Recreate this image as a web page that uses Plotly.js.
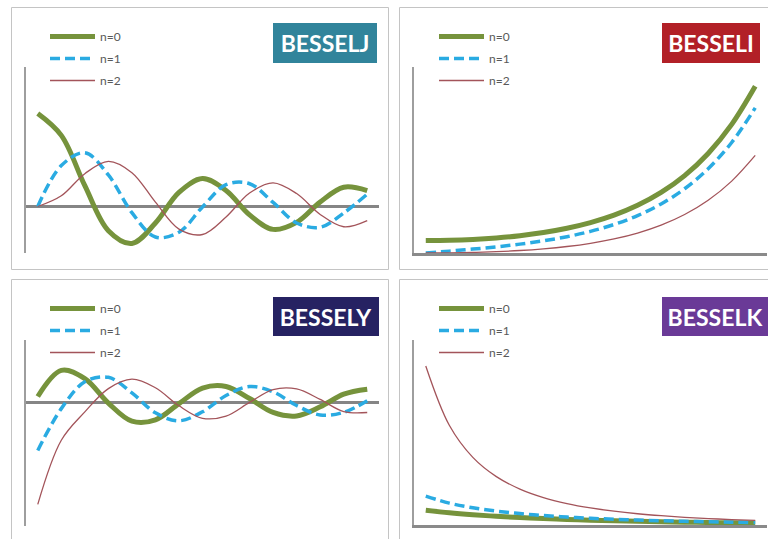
<!DOCTYPE html>
<html><head><meta charset="utf-8">
<script src="https://cdn.plot.ly/plotly-3.0.1.min.js"></script>
<style>html,body{margin:0;padding:0;background:#fff;overflow:hidden}#chart{width:768px;height:539px}</style>
</head><body><div id="chart"></div>
<script>
// ---- data ----
const seriesNames = ['n=0', 'n=1', 'n=2'];
const panelTitles = ['BESSELJ', 'BESSELI', 'BESSELY', 'BESSELK'];

const xJ = [0, 1, 2, 3, 4, 5, 6, 7, 8, 9, 10, 11, 12, 13, 14];
const J0 = [1.000, 0.765, 0.224, -0.260, -0.397, -0.178, 0.151, 0.300, 0.172, -0.090, -0.246, -0.171, 0.048, 0.207, 0.171];
const J1 = [0.000, 0.440, 0.577, 0.339, -0.066, -0.328, -0.277, -0.005, 0.235, 0.245, 0.044, -0.177, -0.223, -0.070, 0.133];
const J2 = [0.000, 0.115, 0.353, 0.486, 0.364, 0.047, -0.243, -0.301, -0.113, 0.145, 0.255, 0.139, -0.085, -0.218, -0.152];

const xI = [0, 0.3, 0.6, 0.9, 1.2, 1.5, 1.8, 2.1, 2.4, 2.7, 3.0, 3.3, 3.6, 3.9, 4.2];
const I0 = [1.000, 1.023, 1.092, 1.213, 1.394, 1.647, 1.990, 2.446, 3.049, 3.842, 4.881, 6.243, 8.028, 10.369, 13.443];
const I1 = [0.000, 0.152, 0.314, 0.497, 0.715, 0.982, 1.317, 1.746, 2.298, 3.016, 3.953, 5.181, 6.793, 8.914, 11.706];
const I2 = [0.000, 0.011, 0.046, 0.108, 0.200, 0.338, 0.526, 0.784, 1.134, 1.608, 2.245, 3.102, 4.254, 5.798, 7.869];

const xY = [1, 2, 3, 4, 5, 6, 7, 8, 9, 10, 11, 12, 13, 14, 15];
const Y0 = [0.088, 0.510, 0.377, -0.017, -0.309, -0.288, -0.026, 0.224, 0.250, 0.056, -0.169, -0.225, -0.078, 0.127, 0.206];
const Y1 = [-0.781, -0.107, 0.325, 0.398, 0.148, -0.175, -0.303, -0.158, 0.104, 0.249, 0.164, -0.057, -0.210, -0.167, 0.021];
const Y2 = [-1.651, -0.617, -0.160, 0.216, 0.368, 0.230, -0.061, -0.263, -0.227, -0.006, 0.200, 0.211, 0.041, -0.154, -0.169];

const xK = [0.4, 0.5, 0.6, 0.7, 0.8, 0.9, 1.0, 1.1, 1.2, 1.3, 1.4, 1.5, 1.6, 1.7, 1.8];
const K0 = [1.115, 0.924, 0.778, 0.661, 0.565, 0.487, 0.421, 0.366, 0.319, 0.278, 0.244, 0.214, 0.188, 0.166, 0.146];
const K1 = [2.184, 1.656, 1.303, 1.050, 0.862, 0.717, 0.602, 0.510, 0.435, 0.373, 0.321, 0.277, 0.241, 0.209, 0.183];
const K2 = [12.037, 7.550, 5.120, 3.661, 2.720, 2.079, 1.625, 1.293, 1.043, 0.851, 0.702, 0.584, 0.489, 0.412, 0.349];

// ---- styling ----
const W = 768, H = 539;
const px = v => v / W;
const py = v => 1 - v / H;
const lineStyles = [
  {color: '#76933C', width: 5},
  {color: '#2AABE2', width: 3.5, dash: '10px,5px'},
  {color: '#A3545A', width: 1.3}
];
const badgeColors = ['#31849B', '#B22027', '#262262', '#6A3A97'];

const panels = [
  {x: xJ, ys: [J0, J1, J2], xa: 'x', ya: 'y', leg: 'legend', xr: [-0.5, 14.5], yr: [-0.5, 1.5], zero: true,
   dx: [26, 379], dy: [67, 253], box: [11.5, 388.5, 7.5, 269.5], legPos: [45, 22], badge: [273, 377, 23, 63]},
  {x: xI, ys: [I0, I1, I2], xa: 'x2', ya: 'y2', leg: 'legend2', xr: [-0.15, 4.35], yr: [0, 15], zero: false,
   dx: [414, 767], dy: [67, 253], box: [399.5, 790, 7.5, 269.5], legPos: [434, 22], badge: [662, 760, 23, 63]},
  {x: xY, ys: [Y0, Y1, Y2], xa: 'x3', ya: 'y3', leg: 'legend3', xr: [0.5, 15.5], yr: [-2, 1], zero: true,
   dx: [26, 379], dy: [340, 526], box: [11.5, 388.5, 279.5, 560], legPos: [45, 294], badge: [273, 379, 297, 336]},
  {x: xK, ys: [K0, K1, K2], xa: 'x4', ya: 'y4', leg: 'legend4', xr: [0.35, 1.85], yr: [0, 14], zero: false,
   dx: [414, 767], dy: [340, 525], box: [399.5, 790, 279.5, 560], legPos: [434, 294], badge: [662, 768, 297, 336]}
];

const data = [];
const layout = {
  width: W, height: H,
  margin: {l: 0, r: 0, t: 0, b: 0},
  paper_bgcolor: '#fff', plot_bgcolor: 'rgba(0,0,0,0)',
  hovermode: false,
  shapes: [], annotations: []
};

panels.forEach((p, i) => {
  p.ys.forEach((yv, k) => {
    data.push({
      type: 'scatter', mode: 'lines', x: p.x, y: yv, name: seriesNames[k],
      xaxis: p.xa, yaxis: p.ya, legend: p.leg, legendgroup: p.leg + k,
      line: Object.assign({shape: 'spline', smoothing: 1}, lineStyles[k])
    });
  });
  const xk = 'xaxis' + (i ? i + 1 : '');
  const yk = 'yaxis' + (i ? i + 1 : '');
  layout[xk] = {
    domain: [px(p.dx[0]), px(p.dx[1])], range: p.xr, anchor: p.ya,
    showgrid: false, zeroline: false, showticklabels: false, ticks: '',
    showline: !p.zero, linecolor: '#8A8A8A', linewidth: 3, fixedrange: true
  };
  layout[yk] = {
    domain: [py(p.dy[1]), py(p.dy[0])], range: p.yr, anchor: p.xa,
    showgrid: false, showticklabels: false, ticks: '',
    zeroline: p.zero, zerolinecolor: '#858585', zerolinewidth: 3,
    showline: true, linecolor: '#9E9E9E', linewidth: 2, fixedrange: true
  };
  layout[p.leg] = {
    x: px(p.legPos[0]), y: py(p.legPos[1]), xanchor: 'left', yanchor: 'top',
    bgcolor: 'rgba(0,0,0,0)', borderwidth: 0,
    font: {family: 'Lato, "Liberation Sans", sans-serif', size: 12, color: '#595959'},
    traceorder: 'grouped', tracegroupgap: 3, itemwidth: 45, itemclick: false, itemdoubleclick: false
  };
  layout.shapes.push({
    type: 'rect', xref: 'paper', yref: 'paper', layer: 'below',
    x0: px(p.box[0]), x1: px(p.box[1]), y0: py(p.box[2]), y1: py(p.box[3]),
    line: {color: '#C4C4C4', width: 1}, fillcolor: 'rgba(0,0,0,0)'
  });
  const b = p.badge;
  layout.annotations.push({
    xref: 'paper', yref: 'paper', x: px((b[0] + b[1]) / 2), y: py((b[2] + b[3]) / 2),
    xanchor: 'center', yanchor: 'middle', showarrow: false,
    text: '<b>' + panelTitles[i] + '</b>',
    font: {family: 'Lato, "Open Sans", sans-serif', size: 23, color: '#FFFFFF'},
    bgcolor: badgeColors[i], borderpad: 0, borderwidth: 0,
    width: b[1] - b[0], height: b[3] - b[2], align: 'center', valign: 'middle'
  });
});

Plotly.newPlot('chart', data, layout, {staticPlot: true, displayModeBar: false});
</script>
</body></html>
